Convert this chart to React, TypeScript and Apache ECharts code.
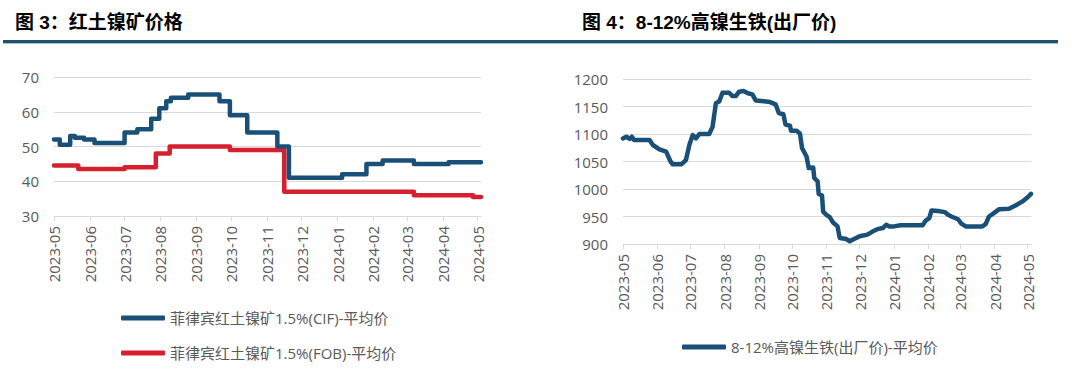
import React, { useEffect, useRef } from "react";
import * as echarts from "echarts";

// Figure 3: laterite nickel ore prices (step changes: date, value holds until next date)
const cifDates = [
  "2023-05-01", "2023-05-06", "2023-05-15", "2023-05-19", "2023-05-27", "2023-06-05",
  "2023-07-01", "2023-07-12", "2023-07-24", "2023-07-31", "2023-08-06", "2023-08-10",
  "2023-08-25", "2023-09-21", "2023-09-30", "2023-10-15", "2023-11-10", "2023-11-20",
  "2024-01-05", "2024-01-26", "2024-02-09", "2024-03-07", "2024-04-06", "2024-05-04",
];
const cifValues = [
  52, 50.5, 53, 52.5, 52, 51,
  54, 55, 58, 61, 63, 64,
  65, 63, 59, 54, 50, 41,
  42, 45, 46, 45, 45.5, 45.5,
];
const fobDates = [
  "2023-05-01", "2023-05-22", "2023-07-01", "2023-07-28", "2023-08-09",
  "2023-09-30", "2023-11-16", "2024-03-07", "2024-04-27", "2024-05-04",
];
const fobValues = [44.5, 43.5, 44, 48, 50, 49, 37, 36, 35.5, 35.5];

// Figure 4: 8-12% NPI ex-works price
const npiDates = [
  "2023-05-01", "2023-05-04", "2023-05-07", "2023-05-09", "2023-05-11", "2023-05-25",
  "2023-05-28", "2023-06-03", "2023-06-09", "2023-06-13", "2023-06-15", "2023-06-23",
  "2023-06-27", "2023-06-30", "2023-07-03", "2023-07-06", "2023-07-09", "2023-07-18",
  "2023-07-21", "2023-07-24", "2023-07-27", "2023-07-30", "2023-08-05", "2023-08-08",
  "2023-08-11", "2023-08-14", "2023-08-18", "2023-08-22", "2023-08-26", "2023-08-29",
  "2023-09-03", "2023-09-11", "2023-09-16", "2023-09-19", "2023-09-23", "2023-09-25",
  "2023-09-29", "2023-09-30", "2023-10-05", "2023-10-08", "2023-10-10", "2023-10-14",
  "2023-10-16", "2023-10-20", "2023-10-21", "2023-10-24", "2023-10-25", "2023-10-28",
  "2023-10-29", "2023-11-01", "2023-11-04", "2023-11-07", "2023-11-11", "2023-11-13",
  "2023-11-19", "2023-11-22", "2023-11-26", "2023-12-01", "2023-12-08", "2023-12-13",
  "2023-12-17", "2023-12-22", "2023-12-25", "2023-12-28", "2024-01-01", "2024-01-07",
  "2024-01-21", "2024-01-27", "2024-01-30", "2024-02-02", "2024-02-04", "2024-02-10",
  "2024-02-16", "2024-02-19", "2024-02-22", "2024-02-28", "2024-03-02", "2024-03-06",
  "2024-03-21", "2024-03-24", "2024-03-27", "2024-04-01", "2024-04-05", "2024-04-14",
  "2024-04-20", "2024-04-26", "2024-05-01", "2024-05-04",
];
const npiValues = [
  1092, 1095, 1091, 1095, 1089, 1089,
  1080, 1072, 1068, 1050, 1045, 1045,
  1053, 1080, 1098, 1092, 1100, 1100,
  1113, 1156, 1159, 1175, 1175, 1169,
  1169, 1177, 1178, 1174, 1172, 1161,
  1160, 1158, 1154, 1138, 1136, 1117,
  1115, 1106, 1106, 1101, 1074, 1059,
  1038, 1039, 1020, 1014, 991, 988,
  959, 953, 949, 939, 932, 911,
  909, 905, 909, 914, 917, 923,
  927, 929, 935, 932, 932, 934,
  934, 934, 943, 947, 961, 960,
  958, 953, 950, 945, 937, 932,
  932, 936, 950, 957, 963, 964,
  970, 977, 985, 991,
];

const leftTitle = "图 3：红土镍矿价格";
const rightTitle = "图 4：8-12%高镍生铁(出厂价)";
const cifName = "菲律宾红土镍矿1.5%(CIF)-平均价";
const fobName = "菲律宾红土镍矿1.5%(FOB)-平均价";
const npiName = "8-12%高镍生铁(出厂价)-平均价";

const xMin = "2023-05-01";
const xMax = "2024-05-04";

const FONT = "'Open Sans', 'Noto Sans CJK SC', sans-serif";
const TITLE_FONT = "'Liberation Sans', 'Noto Sans CJK SC', sans-serif";
const GRAY = "#595959";
const GRID = "#d9d9d9";
const BLUE = "#1a5078";
const RED = "#d7202f";

function pairs(d: string[], v: number[]) {
  return d.map((x, i) => [x, v[i]]);
}

function xAxisFor(gridIndex: number) {
  return {
    type: "time",
    gridIndex,
    min: xMin,
    max: xMax,
    splitNumber: 12,
    minInterval: 28 * 86400000,
    maxInterval: 31 * 86400000,
    axisLine: { show: true, lineStyle: { color: GRID, width: 1 } },
    axisTick: { show: true, length: 5, lineStyle: { color: GRID } },
    splitLine: { show: false },
    axisLabel: {
      rotate: 90,
      margin: 10,
      color: GRAY,
      fontSize: 15,
      fontFamily: FONT,
      formatter: "{yyyy}-{MM}",
      hideOverlap: false,
    },
  };
}

function yAxisFor(gridIndex: number, min: number, max: number, interval: number) {
  return {
    type: "value",
    gridIndex,
    min,
    max,
    interval,
    axisLine: { show: false },
    axisTick: { show: false },
    splitLine: { show: true, lineStyle: { color: GRID, width: 1 } },
    axisLabel: {
      color: GRAY,
      fontSize: 15,
      fontFamily: FONT,
      margin: 15,
      formatter: (v: number) => String(v),
    },
  };
}

const legendIcon = "roundRect";

export default function App() {
  const ref = useRef<HTMLDivElement>(null);
  useEffect(() => {
    if (!ref.current) return;
    const chart = echarts.init(ref.current, null, { renderer: "svg" });
    chart.setOption({
      animation: false,
      backgroundColor: "#ffffff",
      title: [
        {
          text: leftTitle,
          left: 15,
          top: 13,
          padding: 0,
          textStyle: { fontSize: 19, fontWeight: "bold", color: "#000", fontFamily: TITLE_FONT },
        },
        {
          text: rightTitle,
          left: 582,
          top: 13,
          padding: 0,
          textStyle: { fontSize: 19, fontWeight: "bold", color: "#000", fontFamily: TITLE_FONT },
        },
      ],
      graphic: [
        { type: "rect", shape: { x: 3, y: 40, width: 1055, height: 3 }, style: { fill: "#23506e" } },
        { type: "rect", shape: { x: 3, y: 43, width: 1055, height: 1 }, style: { fill: "#9cc4da" } },
      ],
      grid: [
        { left: 54, top: 77, width: 427, height: 139 },
        { left: 623, top: 79, width: 408, height: 165 },
      ],
      xAxis: [xAxisFor(0), xAxisFor(1)],
      yAxis: [yAxisFor(0, 30, 70, 10), yAxisFor(1, 900, 1200, 50)],
      legend: [
        {
          orient: "vertical",
          left: 121,
          top: 309,
          icon: legendIcon,
          itemWidth: 44,
          itemHeight: 5,
          itemGap: 17,
          padding: 0,
          textStyle: { color: GRAY, fontSize: 15, fontFamily: FONT, lineHeight: 18 },
          data: [cifName, fobName],
        },
        {
          orient: "vertical",
          left: 682,
          top: 338,
          icon: legendIcon,
          itemWidth: 44,
          itemHeight: 5,
          padding: 0,
          textStyle: { color: GRAY, fontSize: 15, fontFamily: FONT, lineHeight: 18 },
          data: [npiName],
        },
      ],
      series: [
        {
          name: cifName,
          type: "line",
          xAxisIndex: 0,
          yAxisIndex: 0,
          step: "end",
          symbol: "none",
          color: BLUE,
          lineStyle: { width: 4.5, color: BLUE, join: "round", cap: "round" },
          data: pairs(cifDates, cifValues),
          z: 3,
        },
        {
          name: fobName,
          type: "line",
          xAxisIndex: 0,
          yAxisIndex: 0,
          step: "end",
          symbol: "none",
          color: RED,
          lineStyle: { width: 4.5, color: RED, join: "round", cap: "round" },
          data: pairs(fobDates, fobValues),
          z: 2,
        },
        {
          name: npiName,
          type: "line",
          xAxisIndex: 1,
          yAxisIndex: 1,
          symbol: "none",
          color: BLUE,
          lineStyle: { width: 4.5, color: BLUE, join: "round", cap: "round" },
          data: pairs(npiDates, npiValues),
        },
      ],
    });
    return () => chart.dispose();
  }, []);
  return (
    <div
      ref={ref}
      style={{ position: "fixed", left: 0, top: 0, width: 1080, height: 377, background: "#fff" }}
    />
  );
}
